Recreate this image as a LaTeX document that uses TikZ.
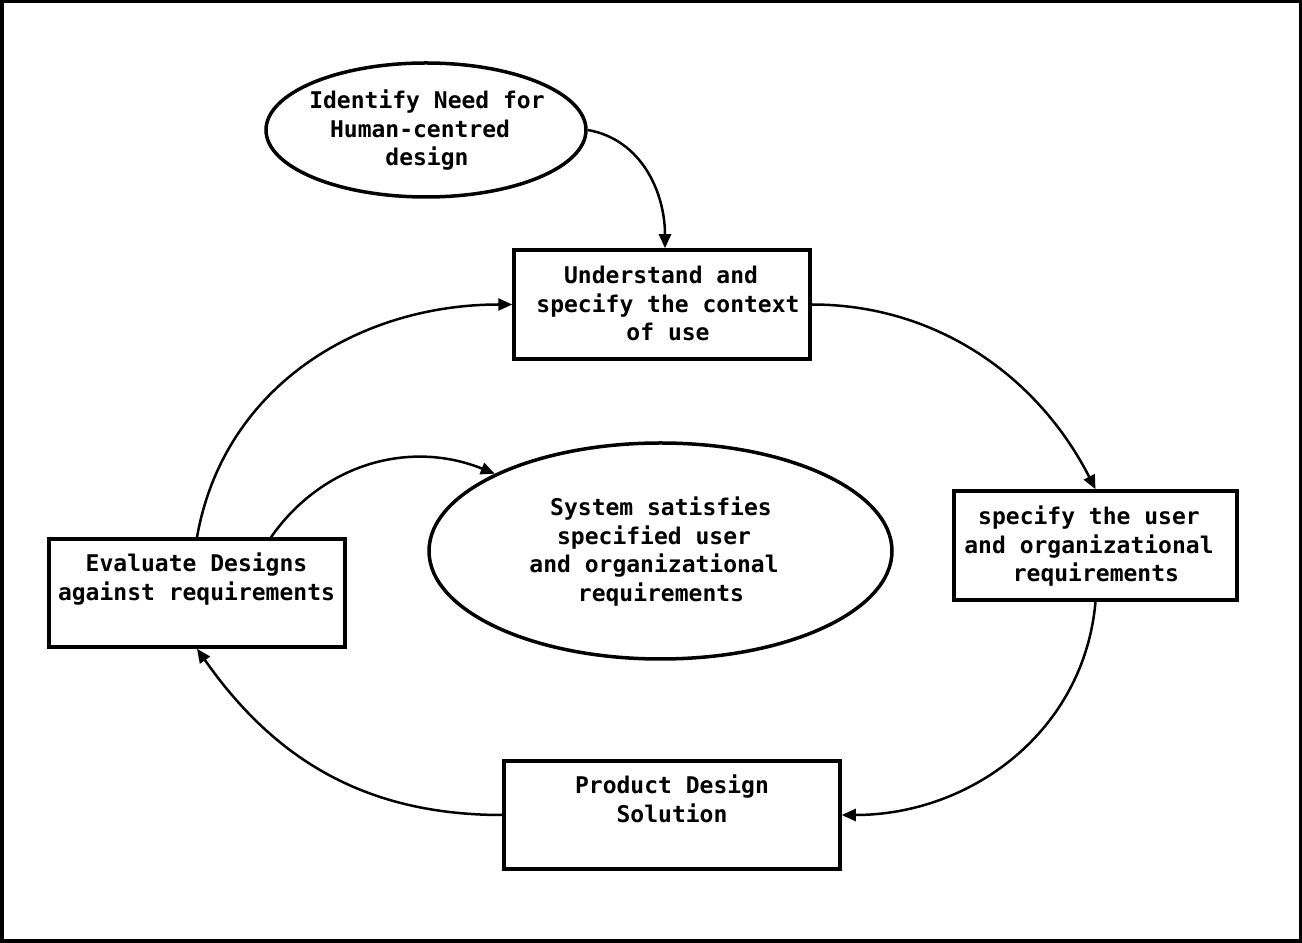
\documentclass[tikz,border=0pt]{standalone}
\usepackage{fontspec}
\newfontfamily\dvmono{DejaVu Sans Mono}
\usetikzlibrary{shapes.geometric,arrows.meta}
\newcommand\mlines[1]{\begin{tabular}[t]{@{}c@{}}#1\end{tabular}}
\tikzset{
  boxnode/.style={draw, line width=3.5pt, rectangle, inner sep=0pt},
  ovalnode/.style={draw, line width=3.5pt, ellipse, inner sep=0pt},
  txt/.style={anchor=base, inner sep=0pt, font=\dvmono\bfseries\fontsize{23}{28.5}\selectfont},
  conn/.style={line width=2.5pt, -{Triangle[length=14pt,width=12pt]}},
}
\begin{document}
\begin{tikzpicture}[x=1pt,y=1pt]
\useasboundingbox (0,0) rectangle (1302,943);
\draw[line width=3.5pt] (1.75,1.75) rectangle (1300.25,941.25);

\node[ovalnode, minimum width=320pt, minimum height=134pt] (need) at (426,813) {};
\node[txt] (needt) at (427,834) {\mlines{Identify Need for\\Human-centred\hphantom{x}\\design}};

\node[boxnode, minimum width=296pt, minimum height=109pt] (ctx) at (662,638.5) {};
\node[txt] (ctxt) at (668,659) {\mlines{Understand and\hphantom{x}\\specify the context\\of use}};

\node[boxnode, minimum width=283pt, minimum height=109pt] (req) at (1095.5,397.5) {};
\node[txt] (reqt) at (1089,418) {\mlines{specify the user\\and organizational\\\hphantom{x}requirements}};

\node[boxnode, minimum width=336pt, minimum height=108pt] (prod) at (672,128) {};
\node[txt] (prodt) at (672,149) {\mlines{Product Design\\Solution}};

\node[boxnode, minimum width=296pt, minimum height=108pt] (eval) at (197,350) {};
\node[txt] (evalt) at (196.5,371) {\mlines{Evaluate Designs\\against requirements}};

\node[ovalnode, minimum width=463pt, minimum height=216pt] (sys) at (660.5,392) {};
\node[txt] (syst) at (661,427) {\mlines{System satisfies\\specified user\hphantom{x}\\and organizational\hphantom{x}\\requirements}};

\draw[conn] (need.east) to[out=-10,in=90] ([xshift=3pt]ctx.north);
\draw[conn] (ctx.east) to[out=0,in=117,looseness=0.95] (req.north);
\draw[conn] (req.south) to[out=-95,in=0] (prod.east);
\draw[conn] (prod.west) to[out=180,in=-55] (eval.south);
\draw[conn] (eval.north) to[out=80,in=180] (ctx.west);
\draw[conn] ([xshift=74pt]eval.north) to[out=55,in=158] (sys.155);
\end{tikzpicture}
\end{document}
